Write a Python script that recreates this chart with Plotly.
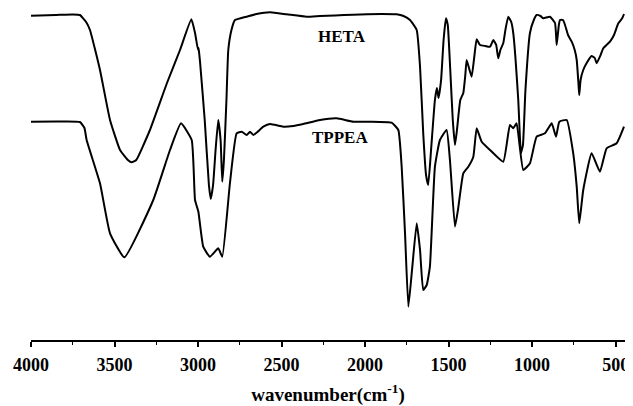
import plotly.graph_objects as go

# FTIR spectra (arbitrary transmittance units)
heta_wn = [4000, 3850, 3750, 3707, 3670, 3647, 3587, 3527, 3467, 3420, 3397, 3370, 3288, 3186, 3108,
           3040, 3018, 3000, 2997, 2994, 2988, 2960, 2935, 2924, 2910, 2895, 2879, 2865, 2855, 2845,
           2830, 2819, 2800, 2779, 2740, 2709, 2650, 2569, 2469, 2350, 2270, 2180, 2073, 1900, 1811,
           1770, 1731, 1691, 1671, 1652, 1635, 1622, 1605, 1582, 1570, 1560, 1545, 1530, 1516, 1505,
           1490, 1475, 1462, 1450, 1430, 1412, 1400, 1392, 1378, 1362, 1345, 1332, 1312, 1280, 1252,
           1232, 1215, 1203, 1190, 1173, 1160, 1143, 1125, 1113, 1083, 1067, 1055, 1040, 1013, 990,
           973, 950, 933, 893, 863, 853, 840, 833, 815, 803, 785, 763, 745, 733, 722, 718, 710, 694,
           670, 644, 625, 614, 590, 574, 534, 510, 484, 460, 450]
heta_t = [324.3, 325, 325.5, 325, 318, 310, 270, 220, 190, 180, 177.7, 180, 210, 257, 290,
          320.7, 307, 290, 292, 288, 278, 220, 155, 141, 155, 190, 220, 200, 158.3, 180,
          240, 290, 310, 320, 322, 323.3, 326, 327.7, 325.7, 323.3, 324, 324.5, 325.3, 326, 325.7,
          324, 320, 310, 273.3, 207, 165, 155, 190, 240, 252, 242, 260, 300, 321.7, 315,
          270, 220, 195, 210, 240, 247, 265, 280, 272, 263.3, 285, 300.7, 295, 294, 293.3,
          300, 295, 281.7, 290, 296.7, 310, 323.3, 318, 307, 240, 187, 195, 250, 307, 320,
          325, 324, 321.7, 323.3, 317, 295, 315, 320, 320, 315, 305, 298.3, 290, 280, 255, 245, 260, 270,
          278, 284, 282, 276.7, 285, 291.7, 298.3, 305, 316.7, 322, 326]

tppea_wn = [4000, 3850, 3707, 3680, 3667, 3587, 3527, 3441, 3268, 3168, 3102, 3038, 3018, 2998, 2969,
            2929, 2879, 2855, 2809, 2769, 2739, 2709, 2689, 2669, 2609, 2569, 2490, 2430, 2370, 2270,
            2170, 2071, 1971, 1841, 1801, 1781, 1761, 1741, 1719, 1691, 1671, 1652, 1631, 1612, 1582,
            1552, 1512, 1492, 1462, 1444, 1412, 1382, 1352, 1332, 1302, 1252, 1173, 1133, 1113, 1093,
            1053, 1013, 973, 923, 883, 857, 837, 793, 754, 733, 718, 694, 644, 594, 554, 494, 450]
tppea_t = [218.3, 218.5, 218, 212, 200, 156.7, 106.7, 82.7, 140, 190, 216.7, 200, 140, 128.3, 93.3,
           83.3, 91.7, 83.3, 157, 206.7, 208.3, 205, 208.3, 205, 213.3, 216, 213.3, 214, 216, 220,
           221.7, 218.3, 218.3, 217.3, 210, 173.3, 107, 33.3, 70, 116.7, 90, 50, 55, 73.3, 173.3,
           200, 210, 180, 113.3, 130, 166.7, 173.3, 183.3, 211.7, 198.3, 190, 178.3, 215, 211.7, 216.7,
           170, 176.7, 203.3, 206.7, 216.7, 203.3, 218.3, 220, 186.7, 153.3, 116.7, 150, 186.7, 168.3, 191.7, 196.7, 213.3]

labels = ["HETA", "TPPEA"]
label_wn = [2140, 2150]
label_t = [304, 202.5]

x_ticks = [4000, 3500, 3000, 2500, 2000, 1500, 1000, 500]

serif = "Liberation Serif, Times New Roman, serif"

fig = go.Figure()
fig.add_trace(go.Scatter(x=heta_wn, y=heta_t, mode="lines", name="HETA",
                         line=dict(color="black", width=2, shape="spline", smoothing=0.4)))
fig.add_trace(go.Scatter(x=tppea_wn, y=tppea_t, mode="lines", name="TPPEA",
                         line=dict(color="black", width=2, shape="spline", smoothing=0.4)))

for txt, xv, yv in zip(labels, label_wn, label_t):
    fig.add_annotation(x=xv, y=yv, text="<b>%s</b>" % txt, showarrow=False,
                       font=dict(family=serif, size=17, color="black"))

# page body has an 8px default margin, so the figure is sized to fit the window
fig.update_layout(
    width=625, height=398,
    margin=dict(l=23, r=8, t=0, b=66, autoexpand=False),
    paper_bgcolor="white", plot_bgcolor="white",
    showlegend=False,
    xaxis=dict(range=[4000, 444], tickvals=x_ticks, ticks="outside", ticklen=5, tickwidth=1.5,
               tickcolor="black", showline=True, linecolor="black", linewidth=1.5,
               showgrid=False, zeroline=False, ticklabelstandoff=3,
               minor=dict(dtick=250, ticks="outside", ticklen=3, tickwidth=1.2, tickcolor="black"),
               tickfont=dict(family=serif, size=18, color="black", weight="bold"),
               title=dict(text="<b>wavenumber(cm<sup>-1</sup>)</b>", standoff=16,
                          font=dict(family=serif, size=19, color="black"))),
    yaxis=dict(range=[0, 332], visible=False, showgrid=False, zeroline=False),
)

fig.write_html("out.html")
